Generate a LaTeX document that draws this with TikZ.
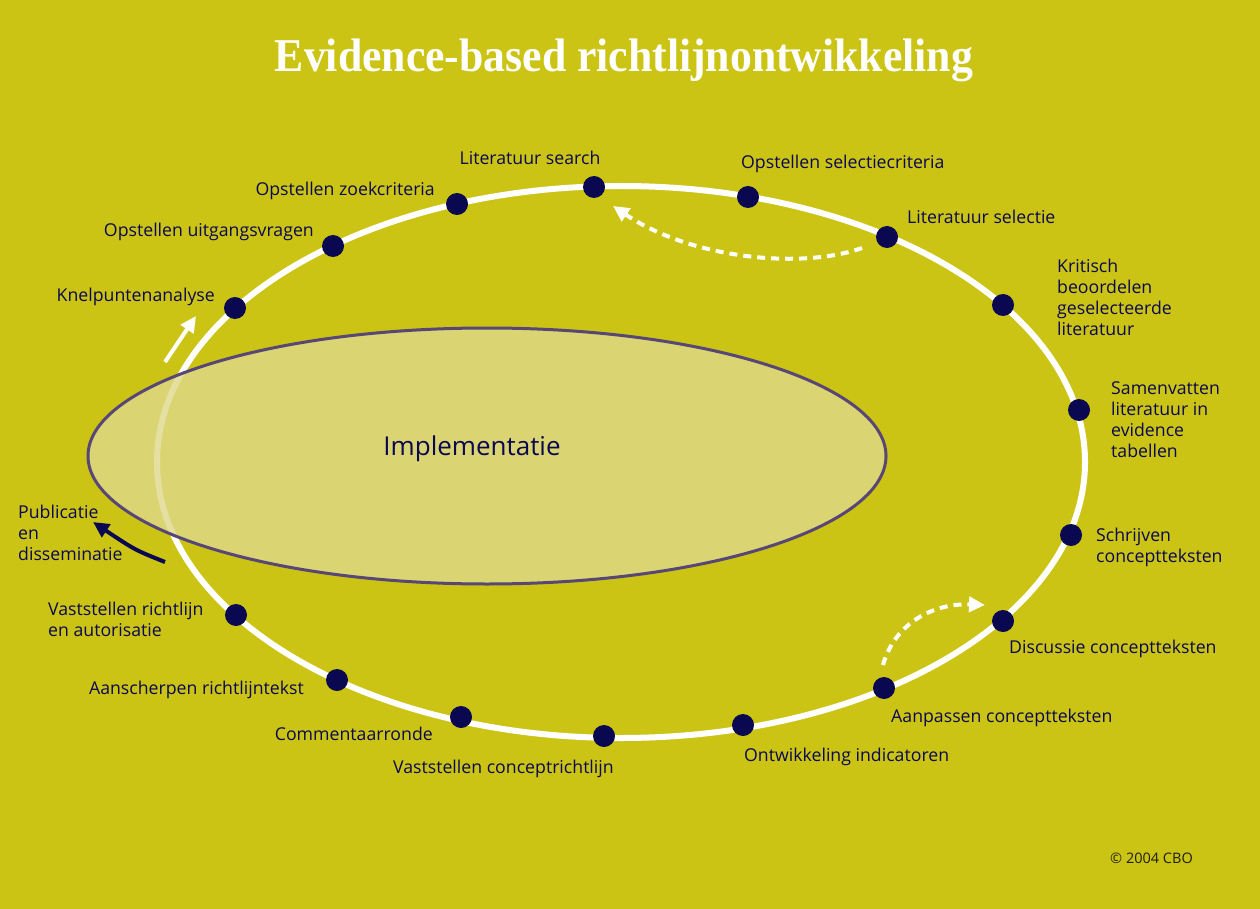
\documentclass[tikz,border=0pt]{standalone}
\usepackage{fontspec}
\setmainfont{Open Sans}
\newfontfamily\titlefont{Liberation Serif}
\usetikzlibrary{arrows.meta}
\definecolor{bg}{RGB}{204,196,20}
\definecolor{navy}{RGB}{10,8,80}
\definecolor{innerfill}{RGB}{223,217,139}
\definecolor{innerline}{RGB}{88,70,118}
\definecolor{copy}{RGB}{30,30,20}
\tikzset{
  dot/.style={circle,fill=navy,inner sep=0pt,minimum size=22pt},
  lbl/.style={text=navy,font=\fontsize{17.7}{21}\selectfont,inner sep=0pt,align=left},
  whitearrow/.style={white,line width=4pt,-{Triangle[length=16pt,width=15pt]}},
  dasharrow/.style={whitearrow,dash pattern=on 8pt off 6pt},
  navyarrow/.style={navy,line width=4pt,-{Triangle[length=16pt,width=15pt]}}
}
\begin{document}
\begin{tikzpicture}[x=1pt,y=-1pt]
\fill[bg] (0,0) rectangle (1260,909);
\useasboundingbox (0,0) rectangle (1260,909);
% title
\node[text=white,inner sep=0pt] (title) at (624,60) {\scalebox{0.93}[1]{\titlefont\bfseries\fontsize{47}{50}\selectfont Evidence-based richtlijnontwikkeling}};
% big cycle
\draw[white,line width=6pt] (621,462) ellipse [x radius=464,y radius=276];
% implementation ellipse
\draw[innerline,line width=3pt,fill=innerfill,fill opacity=0.8] (487,456) ellipse [x radius=399,y radius=128];
\node[text=navy,inner sep=0pt,font=\fontsize{26}{30}\selectfont] (impl) at (472,449) {Implementatie};
% dots
\node[dot] (d1) at (235,308) {};
\node[dot] (d2) at (333,246) {};
\node[dot] (d3) at (457,204) {};
\node[dot] (d4) at (594,187) {};
\node[dot] (d5) at (748,197) {};
\node[dot] (d6) at (887,237) {};
\node[dot] (d7) at (1003,305) {};
\node[dot] (d8) at (1079,410) {};
\node[dot] (d9) at (1071,535) {};
\node[dot] (d10) at (1003,621) {};
\node[dot] (d11) at (884,688) {};
\node[dot] (d12) at (743,725) {};
\node[dot] (d13) at (604,736) {};
\node[dot] (d14) at (461,717) {};
\node[dot] (d15) at (337,680) {};
\node[dot] (d16) at (236,615) {};
% labels
\node[lbl,anchor=east] (l1) at (215,297) {Knelpuntenanalyse};
\node[lbl,anchor=east] (l2) at (314,232) {Opstellen uitgangsvragen};
\node[lbl,anchor=east] (l3) at (435,191) {Opstellen zoekcriteria};
\node[lbl] (l4) at (530,158) {Literatuur search};
\node[lbl,anchor=west] (l5) at (741,164) {Opstellen selectiecriteria};
\node[lbl,anchor=west] (l6) at (907,217) {Literatuur selectie};
\node[lbl,anchor=north west] (l7) at (1057,259) {Kritisch\\beoordelen\\geselecteerde\\literatuur};
\node[lbl,anchor=north west] (l8) at (1111,381) {Samenvatten\\literatuur in\\evidence\\tabellen};
\node[lbl,anchor=north west] (l9) at (1096,528) {Schrijven\\conceptteksten};
\node[lbl,anchor=west] (l10) at (1009,649) {Discussie conceptteksten};
\node[lbl,anchor=west] (l11) at (891,718) {Aanpassen conceptteksten};
\node[lbl,anchor=west] (l12) at (744,757) {Ontwikkeling indicatoren};
\node[lbl,anchor=east] (l13) at (614,769) {Vaststellen conceptrichtlijn};
\node[lbl,anchor=east] (l14) at (433,734) {Commentaarronde};
\node[lbl,anchor=east] (l15) at (304,690) {Aanscherpen richtlijntekst};
\node[lbl,anchor=north west] (l16) at (48,602) {Vaststellen richtlijn\\en autorisatie};
\node[lbl,anchor=north west] (l17) at (18,505) {Publicatie\\en\\disseminatie};
\node[text=copy,inner sep=0pt,anchor=west,font=\fontsize{14.5}{16}\selectfont] (cr) at (1110,858) {\textcopyright\ 2004 CBO};
% arrows
\coordinate (a1s) at (862,248);
\coordinate (a1e) at (613,206);
\draw[dasharrow] (a1s) .. controls (800,270) and (690,258) .. (a1e);
\coordinate (a2s) at (883,665);
\coordinate (a2e) at (985,605);
\draw[dasharrow] (a2s) .. controls (895,622) and (935,603) .. (a2e);
\coordinate (a3s) at (165,362);
\coordinate (a3e) at (196,316);
\draw[whitearrow] (a3s) -- (a3e);
\coordinate (a4s) at (165,562);
\coordinate (a4e) at (93,522);
\draw[navyarrow] (a4s) .. controls (135,550) .. (a4e);
\end{tikzpicture}
\end{document}
